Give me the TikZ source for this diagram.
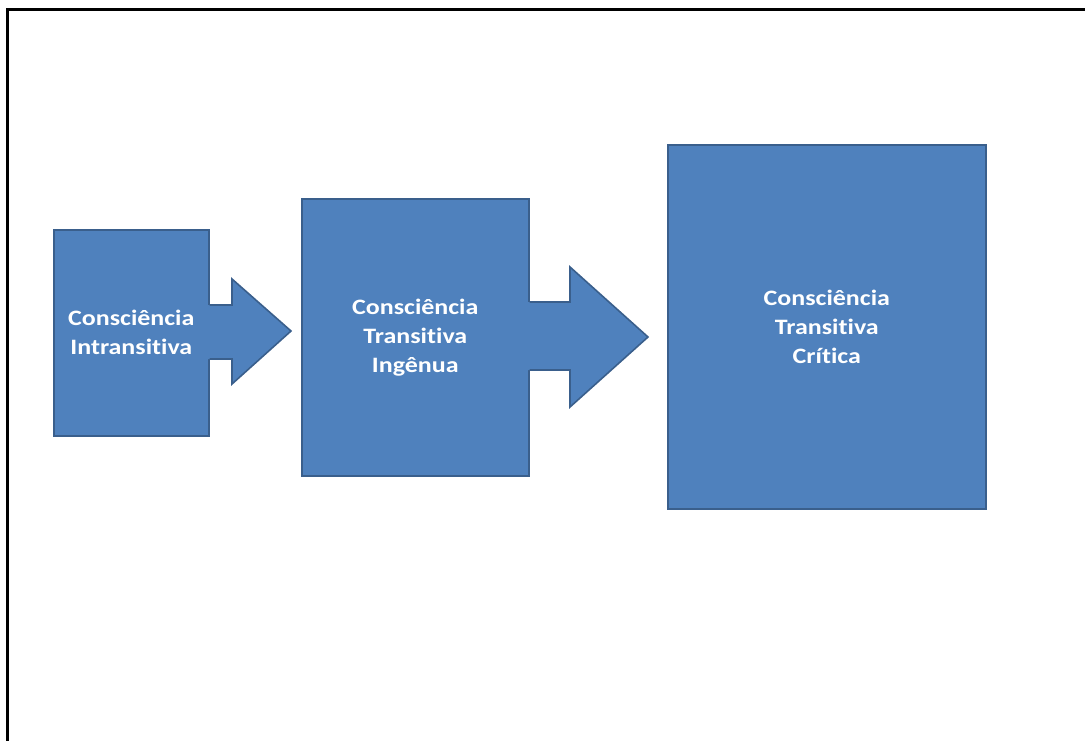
\documentclass[tikz,border=0pt]{standalone}
\usepackage{fontspec}
\setmainfont{Carlito}[Ligatures={NoCommon}]
\usetikzlibrary{calc}
\definecolor{boxfill}{HTML}{4F81BD}
\definecolor{boxline}{HTML}{3A5F8C}
\newfontfamily\stagefont{Carlito}[Ligatures={NoCommon}, FakeStretch=1.18, BoldFont={Carlito Bold}, BoldFeatures={FakeStretch=1.18}]
\tikzset{
  stage/.style={draw=boxline, line width=1.6pt, fill=boxfill, text=white,
    font=\stagefont\fontsize{22}{29}\selectfont\bfseries, align=center, inner sep=0pt,
    anchor=north west},
  blockarrowfill/.style={fill=boxfill},
  blockarrowline/.style={draw=boxline, line width=1.6pt, line join=miter},
  frame/.style={draw=black, line width=2.6pt}
}
\begin{document}
\begin{tikzpicture}[x=1pt,y=-1pt]
\useasboundingbox (0,0) rectangle (1085,740);
\draw[frame] (7.5,760) -- (7.5,9.5) -- (1100,9.5);
% boxes
\node[stage, minimum width=155pt, minimum height=206pt] (b1) at (53,229) {Consciência\\Intransitiva};
\node[stage, minimum width=227pt, minimum height=277pt] (b2) at (301,198) {Consciência\\Transitiva\\Ingênua};
\node[stage, minimum width=318pt, minimum height=364pt] (b3) at (667,144) {Consciência\\Transitiva\\Crítica};
% arrow 1 from b1 to b2
\coordinate (a1s) at ($(b1.east |- 0,305)+(-2,0)$);
\coordinate (a1e) at ($(b1.east |- 0,359)+(-2,0)$);
\coordinate (a1tip) at (291,331);
\fill[blockarrowfill] (a1s) -- (232,305) -- (232,279) -- (a1tip) -- (232,384) -- (232,359) -- (a1e) -- cycle;
\draw[blockarrowline] (b1.east |- 0,305) -- (232,305) -- (232,279) -- (a1tip) -- (232,384) -- (232,359) -- (b1.east |- 0,359);
% arrow 2 from b2 to b3
\coordinate (a2s) at ($(b2.east |- 0,302)+(-2,0)$);
\coordinate (a2e) at ($(b2.east |- 0,370)+(-2,0)$);
\coordinate (a2tip) at (648,337);
\fill[blockarrowfill] (a2s) -- (570,302) -- (570,267) -- (a2tip) -- (570,407) -- (570,370) -- (a2e) -- cycle;
\draw[blockarrowline] (b2.east |- 0,302) -- (570,302) -- (570,267) -- (a2tip) -- (570,407) -- (570,370) -- (b2.east |- 0,370);
\end{tikzpicture}
\end{document}
